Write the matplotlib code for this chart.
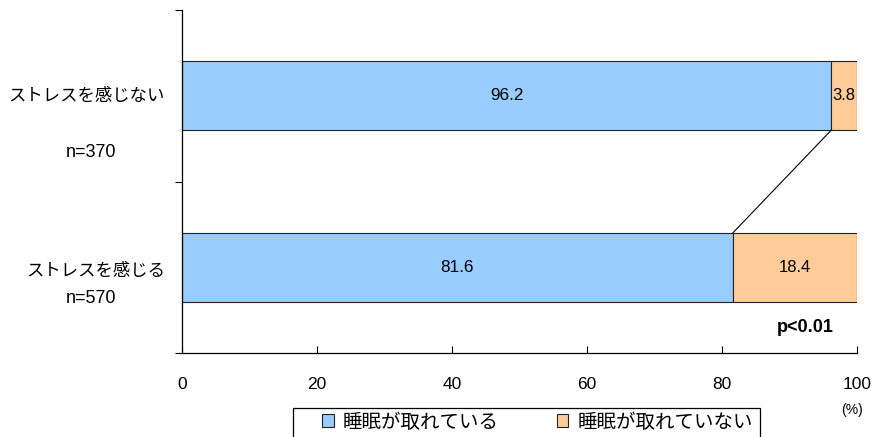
import matplotlib
matplotlib.use("Agg")
import matplotlib.pyplot as plt
from matplotlib.patches import Patch, Rectangle

plt.rcParams['font.family'] = ['Noto Sans CJK JP', 'DejaVu Sans']
NUM = ['Liberation Sans', 'DejaVu Sans']

categories = ["ストレスを感じない", "ストレスを感じる"]
n_labels = ["n=370", "n=570"]
sleep_ok = [96.2, 81.6]
sleep_ng = [3.8, 18.4]
series_names = ["睡眠が取れている", "睡眠が取れていない"]
x_ticks = [0, 20, 40, 60, 80, 100]
colors = ["#99CCFF", "#FFCC99"]

W, H = 879, 437
fig = plt.figure(figsize=(W/100, H/100), dpi=100)
ax = fig.add_axes([182/W, 1-353/H, (857-182)/W, (353-10)/H])

ypos = [1, 0]
bh = 0.4
ax.barh(ypos, sleep_ok, height=bh, color=colors[0], edgecolor="#222222", linewidth=0.8)
ax.barh(ypos, sleep_ng, left=sleep_ok, height=bh, color=colors[1], edgecolor="#222222", linewidth=0.8)

for y, a, b in zip(ypos, sleep_ok, sleep_ng):
    ax.text(a/2, y, f"{a:.1f}", ha="center", va="center", fontsize=12.3, family=NUM)
    ax.text(a + b/2, y, f"{b:.1f}", ha="center", va="center", fontsize=12, family=NUM)

# connector line
ax.plot([sleep_ok[0], sleep_ok[1]], [ypos[0]-bh/2, ypos[1]+bh/2], color="black", linewidth=0.8)

ax.set_xlim(0, 100)
ax.set_ylim(-0.5, 1.5)
ax.set_xticks(x_ticks)
ax.set_xticklabels([str(t) for t in x_ticks], fontsize=12.5, family=NUM)
ax.set_yticks([-0.5, 0.5, 1.5])
ax.set_yticklabels([])
ax.tick_params(axis="x", direction="in", length=5, pad=17, width=0.8)
ax.tick_params(axis="y", direction="out", length=5, width=0.8)
for s in ["top", "right"]:
    ax.spines[s].set_visible(False)
for s in ["left", "bottom"]:
    ax.spines[s].set_linewidth(0.9)

tr = ax.get_yaxis_transform()
cat_offsets = [0.0, -0.02]
n_offsets = [-0.33, -0.18]
for y, cat, nl, co, no in zip(ypos, categories, n_labels, cat_offsets, n_offsets):
    ax.text(-0.025, y + co, cat, transform=tr, ha="right", va="center", fontsize=12.5, clip_on=False)
    ax.text(-0.135, y + no, nl, transform=tr, ha="center", va="center", fontsize=13, family=NUM, clip_on=False)

ax.text(96.5, -0.35, "p<0.01", ha="right", va="center", fontsize=13, fontweight="bold", family=NUM)

fig.text(852/W, 1-410/H, "(%)", ha="center", va="center", fontsize=10, family=NUM)

# legend frame
fig.patches.append(Rectangle((293/W, -0.05), (760-293)/W, 1-408/H+0.05, transform=fig.transFigure,
                             facecolor="white", edgecolor="black", linewidth=0.9))
handles = [Patch(facecolor=c, edgecolor="#222222", linewidth=0.8) for c in colors]
fig.legend(handles, series_names, loc="center left", bbox_to_anchor=(322/W, 1-422/H), ncol=2,
           frameon=False, fontsize=14, handlelength=0.6, handleheight=0.6, handletextpad=0.45,
           columnspacing=3.0, borderpad=0, borderaxespad=0)

fig.savefig("out.png", dpi=100)
